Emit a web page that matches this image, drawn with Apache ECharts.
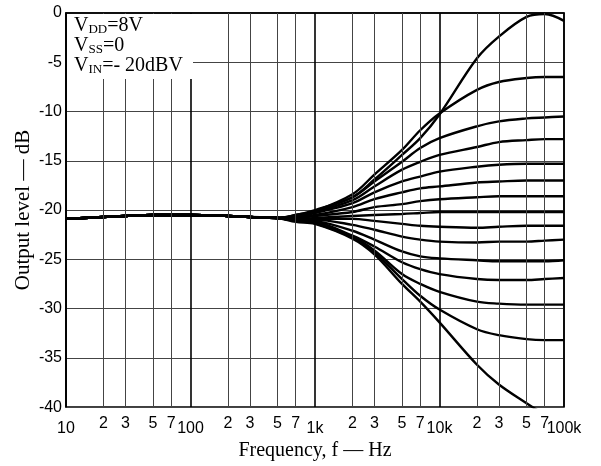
<!DOCTYPE html>
<html>
<head>
<meta charset="utf-8">
<script src="https://cdn.jsdelivr.net/npm/echarts@6/dist/echarts.min.js"></script>
<style>
  html, body { margin: 0; padding: 0; background: #fff; }
  #chart { width: 601px; height: 466px; }
</style>
</head>
<body>
<div id="chart"></div>
<script>
  const freqs = [10, 20, 30, 50, 70, 100, 200, 300, 500,
    700, 1000, 2000, 3000, 5000, 7000, 10000, 20000, 30000, 50000, 70000, 100000]
  // all steps overlap below ~600 Hz
  const sharedLow = [-20.9, -20.7, -20.6, -20.5, -20.5, -20.5, -20.6, -20.7, -20.8]
  // 700 Hz .. 100 kHz, one list per step
  const step15 = [-20.5, -20.0, -18.7, -16.9, -14.4, -12.7, -10.3, -4.6, -2.4, -0.4, -0.1, -0.8]
  const step14 = [-20.5, -20.1, -18.4, -16.4, -13.9, -11.9, -10.2, -7.8, -7.0, -6.6, -6.5, -6.5]
  const step13 = [-20.6, -20.1, -18.7, -17.1, -15.1, -13.7, -12.7, -11.5, -11.0, -10.7, -10.6, -10.5]
  const step12 = [-20.6, -20.2, -19.0, -17.6, -15.9, -15.1, -14.4, -13.6, -13.1, -12.9, -12.8, -12.8]
  const step11 = [-20.7, -20.3, -19.3, -18.2, -17.1, -16.6, -16.1, -15.6, -15.4, -15.3, -15.3, -15.3]
  const step10 = [-20.7, -20.5, -19.7, -18.9, -18.2, -17.8, -17.6, -17.2, -17.1, -17.0, -17.0, -17.0]
  const step9 = [-20.8, -20.6, -20.2, -19.7, -19.4, -19.1, -18.9, -18.7, -18.6, -18.6, -18.6, -18.6]
  const step8 = [-20.9, -20.8, -20.6, -20.5, -20.4, -20.3, -20.2, -20.2, -20.2, -20.2, -20.2, -20.2]
  const step7 = [-20.9, -20.9, -20.9, -21.1, -21.4, -21.6, -21.7, -21.8, -21.7, -21.6, -21.6, -21.6]
  const step6 = [-21.0, -21.0, -21.5, -22.0, -22.7, -23.0, -23.2, -23.3, -23.2, -23.2, -23.1, -23.0]
  const step5 = [-21.0, -21.1, -22.1, -23.0, -24.2, -24.7, -24.9, -25.1, -25.2, -25.2, -25.2, -25.1]
  const step4 = [-21.1, -21.2, -22.6, -23.7, -25.3, -26.0, -26.5, -27.0, -27.1, -27.1, -27.0, -26.9]
  const step3 = [-21.1, -21.3, -22.7, -24.1, -26.5, -27.5, -28.3, -29.3, -29.5, -29.6, -29.6, -29.6]
  const step2 = [-21.1, -21.35, -22.8, -24.3, -27.0, -28.7, -30.1, -32.1, -32.7, -33.1, -33.2, -33.2]
  const step1 = [-21.2, -21.4, -22.9, -24.5, -27.5, -29.3, -31.4, -35.7, -37.7, -39.6, -40.8, -42.2]
  const steps = [step1, step2, step3, step4, step5, step6, step7, step8,
    step9, step10, step11, step12, step13, step14, step15]

  // axis ticks
  const yTicks = [0, -5, -10, -15, -20, -25, -30, -35, -40]
  const decades = [10, 100, 1000, 10000]
  const decadeLabels = { 10: '10', 100: '100', 1000: '1k', 10000: '10k', 100000: '100k' }
  const minorMults = [2, 3, 5, 7]
  const minorLabels = ['2', '3', '5', '7']

  // curve name labels [freq, dB, text]
  const stepNames = [[52000, -3.2, 'Step15'], [53500, -19.4, 'Step8'], [52000, -36.2, 'Step1']]

  const chart = echarts.init(document.getElementById('chart'), null, { renderer: 'canvas' })

  const minorLines = []
  decades.forEach(d => {
    minorMults.forEach((m, i) => {
      minorLines.push({ xAxis: d * m, label: { formatter: minorLabels[i] } })
    })
  })

  const series = steps.map((s, i) => ({
    name: 'Step' + (i + 1),
    type: 'line',
    data: freqs.map((f, j) => [f, j < sharedLow.length ? sharedLow[j] : s[j - sharedLow.length]]),
    showSymbol: false,
    symbol: 'none',
    smooth: 0.35,
    clip: true,
    lineStyle: { color: '#000', width: 2.4 },
    z: 3
  }))

  // minor vertical grid lines (2, 3, 5, 7 of each decade)
  series.push({
    name: 'minor',
    type: 'line',
    data: [],
    z: 1,
    markLine: {
      silent: true,
      symbol: 'none',
      animation: false,
      lineStyle: { color: '#444', width: 1, type: 'solid' },
      label: {
        show: true,
        position: 'start',
        distance: 8,
        color: '#000',
        fontSize: 16,
        fontFamily: 'Liberation Sans'
      },
      data: minorLines
    }
  })

  series.push({
    name: 'labels',
    type: 'scatter',
    symbol: 'none',
    data: stepNames,
    z: 5,
    label: {
      show: true,
      position: 'inside',
      formatter: p => p.data[2],
      color: '#000',
      fontSize: 17,
      fontFamily: 'Liberation Serif',
      backgroundColor: '#fff',
      padding: [0, 1]
    }
  })

  chart.setOption({
    animation: false,
    backgroundColor: '#fff',
    grid: {
      left: 66, right: 37, top: 13, bottom: 53,
      show: true, borderColor: '#000', borderWidth: 1.5, backgroundColor: 'transparent'
    },
    xAxis: {
      type: 'log',
      logBase: 10,
      min: 10,
      max: 100000,
      name: 'Frequency, f — Hz',
      nameLocation: 'middle',
      nameGap: 29,
      nameTextStyle: { fontFamily: 'Liberation Serif', fontSize: 20, color: '#000' },
      axisLine: { lineStyle: { color: '#000', width: 1.5 } },
      axisTick: { show: false },
      axisLabel: {
        color: '#000',
        fontSize: 16,
        fontFamily: 'Liberation Sans',
        margin: 13,
        formatter: v => decadeLabels[Math.round(v)] || ''
      },
      splitLine: { show: true, lineStyle: { color: '#000', width: 1.6 } }
    },
    yAxis: {
      type: 'value',
      min: yTicks[yTicks.length - 1],
      max: yTicks[0],
      interval: 5,
      name: 'Output level — dB',
      nameLocation: 'middle',
      nameRotate: 90,
      nameGap: 32,
      nameMoveOverlap: false,
      nameTextStyle: { fontFamily: 'Liberation Serif', fontSize: 21, color: '#000' },
      axisLine: { lineStyle: { color: '#000', width: 1.5 } },
      axisTick: { show: false },
      axisLabel: { color: '#000', fontSize: 16, fontFamily: 'Liberation Sans', margin: 4 },
      splitLine: { show: true, lineStyle: { color: '#444', width: 1 } }
    },
    graphic: [
      {
        type: 'rect',
        z: 100,
        shape: { x: 67, y: 14, width: 126, height: 65 },
        style: { fill: '#fff' }
      },
      {
        type: 'text',
        z: 101,
        x: 74,
        y: 16,
        style: {
          text: '{n|V}{s|DD}{n|=8V}\n{n|V}{s|SS}{n|=0}\n{n|V}{s|IN}{n|=- 20dBV}',
          fill: '#000',
          rich: {
            n: { fontFamily: 'Liberation Serif', fontSize: 20, lineHeight: 20, verticalAlign: 'middle' },
            s: { fontFamily: 'Liberation Serif', fontSize: 13, lineHeight: 20, verticalAlign: 'bottom' }
          }
        }
      }
    ],
    series: series
  })
</script>
</body>
</html>
